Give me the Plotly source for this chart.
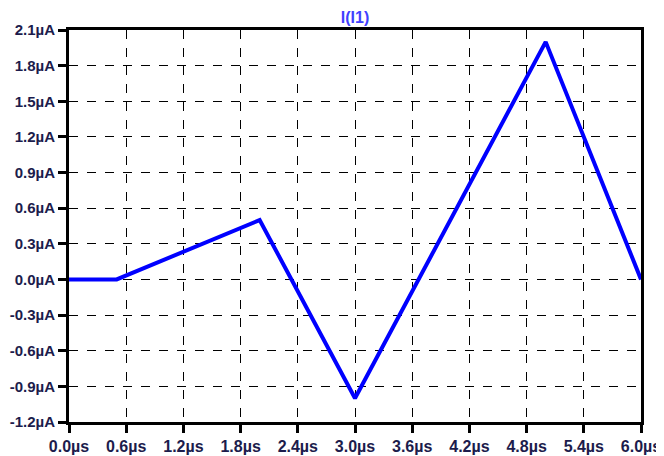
import plotly.graph_objects as go

# Data (PWL current source), time in µs, current in µA
time_us = [0.0, 0.5, 2.0, 3.0, 5.0, 6.0]
current_uA = [0.0, 0.0, 0.5, -1.0, 2.0, 0.0]

x_ticks = [0.0, 0.6, 1.2, 1.8, 2.4, 3.0, 3.6, 4.2, 4.8, 5.4, 6.0]
x_labels = ["0.0µs", "0.6µs", "1.2µs", "1.8µs", "2.4µs", "3.0µs",
            "3.6µs", "4.2µs", "4.8µs", "5.4µs", "6.0µs"]
y_ticks = [2.1, 1.8, 1.5, 1.2, 0.9, 0.6, 0.3, 0.0, -0.3, -0.6, -0.9, -1.2]
y_labels = ["2.1µA", "1.8µA", "1.5µA", "1.2µA", "0.9µA", "0.6µA", "0.3µA",
            "0.0µA", "-0.3µA", "-0.6µA", "-0.9µA", "-1.2µA"]

# The page body has an 8px default margin; size the figure to compensate
OFF = 8
W, H = 664 - OFF, 456 - OFF

axis_common = dict(showline=True, linewidth=3, linecolor="black", mirror=True,
                   ticks="outside", ticklen=8, tickwidth=3, tickcolor="black",
                   showgrid=True, gridcolor="black", gridwidth=1, griddash="dash",
                   zeroline=False, automargin=False)

fig = go.Figure()
fig.add_trace(go.Scatter(x=time_us, y=current_uA, mode="lines",
                         line=dict(color="#0000ff", width=4), showlegend=False))

fig.update_xaxes(range=[0, 6], tickvals=x_ticks, ticktext=x_labels,
                 tickfont=dict(family="Liberation Sans", size=16, color="#1c1c4c", weight=700),
                 **axis_common)
fig.update_yaxes(range=[-1.2, 2.1], tickvals=y_ticks, ticktext=y_labels,
                 tickfont=dict(family="Liberation Sans", size=15, color="#1c1c4c", weight=700),
                 **axis_common)

fig.update_layout(
    width=W, height=H,
    margin=dict(l=69 - OFF, r=23, t=30 - OFF, b=34, pad=0),
    plot_bgcolor="white", paper_bgcolor="white",
    title=dict(text="I(I1)", x=((69 + 641) / 2 - OFF) / W, xanchor="center",
               y=1 - (17 - OFF) / H, yanchor="middle", automargin=False,
               font=dict(family="Liberation Sans", size=16, weight=700,
                         color="#4040ff")),
)

fig.write_html("out.html")
